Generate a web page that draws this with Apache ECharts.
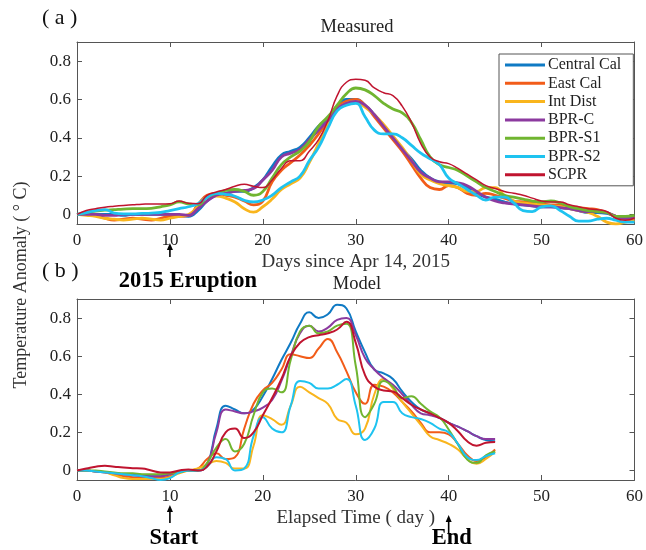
<!DOCTYPE html>
<html>
<head>
<meta charset="utf-8">
<script src="https://cdn.jsdelivr.net/npm/echarts@6/dist/echarts.min.js"></script>
<style>
  html, body { margin: 0; padding: 0; background: #fff; }
  #chart { width: 646px; height: 550px; }
</style>
</head>
<body>
<div id="chart"></div>
<script>
const seriesNames = ['Central Cal', 'East Cal', 'Int Dist', 'BPR-C', 'BPR-S1', 'BPR-S2', 'SCPR'];
const colors = ['#0f7ac4', '#f25c19', '#f9b51d', '#8c3a9f', '#70b530', '#1ec3f0', '#c0142f'];

// panel (a) measured, one value per day 0..60
const daysMeasured = Array.from({ length: 61 }, (_, i) => i);
const measCentral = [0, 0, 0, 0, 0, -0.005, 0, 0, 0, 0,
  0, -0.005, -0.01, 0.02, 0.07, 0.1, 0.11, 0.12, 0.12, 0.14,
  0.18, 0.25, 0.31, 0.33, 0.35, 0.4, 0.46, 0.5, 0.56, 0.6,
  0.6, 0.57, 0.52, 0.46, 0.4, 0.34, 0.29, 0.23, 0.19, 0.17,
  0.165, 0.16, 0.14, 0.11, 0.09, 0.08, 0.065, 0.055, 0.05, 0.045,
  0.04, 0.04, 0.035, 0.03, 0.02, 0.01, 0.01, 0.005, -0.01, -0.02, -0.02];
const measEast = [0, 0, -0.005, -0.02, -0.03, -0.025, -0.02, -0.025, -0.03, -0.02,
  -0.01, -0.01, -0.005, 0.05, 0.1, 0.11, 0.1, 0.09, 0.07, 0.05,
  0.07, 0.17, 0.23, 0.27, 0.31, 0.36, 0.42, 0.49, 0.56, 0.59,
  0.6, 0.57, 0.51, 0.45, 0.39, 0.33, 0.26, 0.19, 0.14, 0.13,
  0.15, 0.14, 0.11, 0.1, 0.11, 0.1, 0.085, 0.07, 0.065, 0.06,
  0.055, 0.05, 0.05, 0.04, 0.035, 0.03, 0.025, 0.01, -0.01, -0.02, -0.02];
const measIntDist = [0, -0.005, -0.01, -0.02, -0.025, -0.03, -0.025, -0.02, -0.025, -0.03,
  -0.02, -0.01, 0, 0.04, 0.09, 0.095, 0.085, 0.065, 0.03, 0.012,
  0.04, 0.08, 0.13, 0.16, 0.19, 0.27, 0.37, 0.47, 0.55, 0.58,
  0.59, 0.56, 0.52, 0.47, 0.41, 0.35, 0.28, 0.21, 0.18, 0.16,
  0.15, 0.14, 0.12, 0.12, 0.14, 0.14, 0.1, 0.07, 0.06, 0.055,
  0.05, 0.045, 0.04, 0.03, 0.02, 0.01, -0.01, -0.04, -0.05, -0.04, -0.03];
const measBprC = [0, 0, 0, -0.005, -0.005, 0, 0, 0, 0, 0,
  0, 0, -0.005, 0.03, 0.07, 0.1, 0.11, 0.12, 0.125, 0.135,
  0.18, 0.23, 0.3, 0.32, 0.34, 0.39, 0.44, 0.49, 0.55, 0.58,
  0.59, 0.57, 0.52, 0.46, 0.4, 0.34, 0.28, 0.22, 0.19, 0.17,
  0.17, 0.165, 0.15, 0.12, 0.09, 0.07, 0.06, 0.055, 0.05, 0.045,
  0.04, 0.04, 0.035, 0.03, 0.02, 0.015, 0.015, 0.01, -0.01, -0.02, -0.015];
const measBprS1 = [0, 0.01, 0.017, 0.022, 0.025, 0.028, 0.03, 0.03, 0.032, 0.04,
  0.05, 0.065, 0.055, 0.05, 0.09, 0.11, 0.125, 0.13, 0.12, 0.1,
  0.12, 0.19, 0.26, 0.3, 0.33, 0.38, 0.46, 0.51, 0.57, 0.63,
  0.66, 0.65, 0.62, 0.58, 0.55, 0.53, 0.48, 0.39, 0.3, 0.26,
  0.245, 0.23, 0.2, 0.17, 0.14, 0.12, 0.1, 0.09, 0.08, 0.07,
  0.065, 0.07, 0.06, 0.04, 0.03, 0.02, 0.015, 0.01, -0.01, -0.01, -0.005];
const measBprS2 = [0, 0.01, 0.02, 0.025, 0.007, 0.003, 0.003, 0.005, 0.007, 0.01,
  0.02, 0.03, 0.04, 0.056, 0.09, 0.11, 0.105, 0.095, 0.074, 0.065,
  0.075, 0.1, 0.14, 0.17, 0.2, 0.28, 0.35, 0.45, 0.54, 0.57,
  0.58, 0.51, 0.44, 0.42, 0.42, 0.4, 0.36, 0.32, 0.29, 0.26,
  0.19, 0.16, 0.13, 0.1, 0.075, 0.09, 0.09, 0.06, 0.02, 0.015,
  0.04, 0.045, 0.02, -0.01, -0.035, -0.035, -0.025, -0.02, -0.03, -0.04, -0.04];
const measScpr = [0, 0.02, 0.03, 0.038, 0.043, 0.047, 0.05, 0.053, 0.055, 0.055,
  0.056, 0.07, 0.058, 0.056, 0.1, 0.117, 0.13, 0.147, 0.157, 0.147,
  0.14, 0.18, 0.24, 0.28, 0.28, 0.33, 0.39, 0.49, 0.62, 0.69,
  0.705, 0.7, 0.66, 0.635, 0.62, 0.565, 0.48, 0.37, 0.3, 0.275,
  0.265, 0.24, 0.21, 0.18, 0.15, 0.135, 0.12, 0.11, 0.1, 0.085,
  0.07, 0.065, 0.065, 0.05, 0.04, 0.03, 0.025, 0.015, -0.02, -0.03, -0.02];

// panel (b) model, one value per day 0..45
const daysModel = Array.from({ length: 46 }, (_, i) => i);
const modCentral = [0, 0, -0.005, -0.01, -0.015, -0.02, -0.02, -0.025, -0.03, -0.03,
  -0.02, -0.01, 0, 0, 0.03, 0.22, 0.34, 0.32, 0.3, 0.32,
  0.39, 0.48, 0.58, 0.67, 0.77, 0.83, 0.8, 0.82, 0.87, 0.85,
  0.73, 0.62, 0.53, 0.51, 0.48, 0.415, 0.36, 0.32, 0.3, 0.276,
  0.25, 0.23, 0.206, 0.18, 0.16, 0.153];
const modEast = [0, 0, -0.005, -0.01, -0.02, -0.03, -0.035, -0.04, -0.04, -0.04,
  -0.03, -0.01, 0, 0.01, 0.06, 0.09, 0.06, 0.07, 0.22, 0.35,
  0.42, 0.46, 0.53, 0.61, 0.6, 0.59, 0.64, 0.69, 0.62, 0.52,
  0.41, 0.35, 0.45, 0.44, 0.41, 0.36, 0.31, 0.25, 0.2, 0.2,
  0.19, 0.14, 0.08, 0.05, 0.07, 0.11];
const modIntDist = [0, 0, -0.005, -0.01, -0.025, -0.04, -0.045, -0.045, -0.045, -0.045,
  -0.035, -0.015, 0, 0.01, 0.03, 0.05, 0.04, 0.01, 0.01, 0.13,
  0.29, 0.27, 0.24, 0.34, 0.44, 0.41, 0.38, 0.35, 0.27, 0.25,
  0.19, 0.22, 0.4, 0.48, 0.43, 0.36, 0.3, 0.24, 0.18, 0.16,
  0.14, 0.11, 0.06, 0.035, 0.06, 0.1];
const modBprC = [0, 0, -0.005, -0.01, -0.015, -0.02, -0.025, -0.03, -0.03, -0.03,
  -0.02, -0.01, 0, 0, 0.03, 0.2, 0.32, 0.31, 0.3, 0.31,
  0.33, 0.37, 0.47, 0.6, 0.72, 0.76, 0.73, 0.75, 0.79, 0.8,
  0.71, 0.59, 0.53, 0.485, 0.45, 0.4, 0.345, 0.3, 0.29, 0.276,
  0.25, 0.23, 0.206, 0.18, 0.165, 0.165];
const modBprS1 = [0, 0, 0, -0.005, -0.01, -0.015, -0.015, -0.02, -0.02, -0.02,
  -0.015, -0.01, 0, 0, 0.04, 0.12, 0.165, 0.1, 0.14, 0.29,
  0.41, 0.43, 0.41, 0.58, 0.73, 0.76, 0.72, 0.73, 0.76, 0.77,
  0.55, 0.28, 0.35, 0.47, 0.44, 0.38, 0.39, 0.35, 0.31, 0.28,
  0.215, 0.136, 0.057, 0.04, 0.08, 0.1];
const modBprS2 = [0, 0, -0.005, -0.01, -0.015, -0.02, -0.025, -0.03, -0.04, -0.05,
  -0.04, -0.01, 0, 0, 0.02, 0.07, 0.06, 0, 0.01, 0.18,
  0.28, 0.22, 0.2, 0.34, 0.47, 0.46, 0.43, 0.43, 0.45, 0.48,
  0.34, 0.16, 0.22, 0.36, 0.36, 0.3, 0.28, 0.27, 0.25, 0.22,
  0.2, 0.14, 0.07, 0.055, 0.075, 0.09];
const modScpr = [0, 0.01, 0.02, 0.025, 0.02, 0.015, 0.012, 0.01, 0, -0.01,
  -0.01, 0, 0.005, 0, 0.02, 0.1, 0.2, 0.22, 0.17, 0.2,
  0.29, 0.38, 0.48, 0.6, 0.67, 0.7, 0.71, 0.72, 0.74, 0.78,
  0.67, 0.5, 0.44, 0.42, 0.415, 0.38, 0.345, 0.32, 0.3, 0.276,
  0.25, 0.206, 0.153, 0.13, 0.145, 0.15];

const measured = [measCentral, measEast, measIntDist, measBprC, measBprS1, measBprS2, measScpr];
const model = [modCentral, modEast, modIntDist, modBprC, modBprS1, modBprS2, modScpr];

const yTicks = [0, 0.2, 0.4, 0.6, 0.8];
const eruptionDay = 10;
const startDay = 10;
const endDay = 40;

const serif = 'Liberation Serif';
const ink = '#222';
const boxColor = '#555';

const chart = echarts.init(document.getElementById('chart'));

function xAxisFor(gridIndex, bottom, name) {
  return {
    type: 'value', gridIndex, position: bottom ? 'bottom' : 'top',
    min: 0, max: 60, interval: 10,
    name: bottom ? name : '', nameLocation: 'middle', nameGap: 29,
    nameTextStyle: { fontFamily: serif, fontSize: 19, color: '#333' },
    axisLine: { show: true, onZero: false, lineStyle: { color: boxColor, width: 1 } },
    axisTick: { show: true, inside: true, length: 5, lineStyle: { color: boxColor } },
    axisLabel: { show: bottom, margin: 8, fontFamily: serif, fontSize: 17, color: ink },
    splitLine: { show: false }
  };
}

function yAxisFor(gridIndex, left) {
  return {
    type: 'value', gridIndex, position: left ? 'left' : 'right',
    min: -0.05, max: 0.9,
    axisLine: { show: true, onZero: false, lineStyle: { color: boxColor, width: 1 } },
    axisTick: { show: true, inside: true, length: 5, customValues: yTicks, lineStyle: { color: boxColor } },
    axisLabel: {
      show: left, margin: 6, fontFamily: serif, fontSize: 17, color: ink,
      customValues: yTicks,
      formatter: v => (v === 0 ? '0' : v.toFixed(1))
    },
    splitLine: { show: false }
  };
}

const series = [];
measured.forEach((vals, i) => {
  series.push({
    name: seriesNames[i], type: 'line', xAxisIndex: 0, yAxisIndex: 0,
    data: daysMeasured.map((d, j) => [d, vals[j]]),
    smooth: 0.5, showSymbol: false, symbol: 'none',
    lineStyle: { width: i === 6 ? 1.5 : 2.8, color: colors[i] },
    itemStyle: { color: colors[i] }, z: 2
  });
});
model.forEach((vals, i) => {
  series.push({
    name: seriesNames[i], type: 'line', xAxisIndex: 2, yAxisIndex: 2,
    data: daysModel.map((d, j) => [d, vals[j]]),
    smooth: 0.5, showSymbol: false, symbol: 'none',
    lineStyle: { width: 2, color: colors[i] },
    itemStyle: { color: colors[i] }, z: 2
  });
});

chart.setOption({
  animation: false,
  backgroundColor: '#fff',
  color: colors,
  title: [
    { text: 'Measured', left: 357, top: 18, textAlign: 'center', padding: 0,
      textStyle: { fontFamily: serif, fontSize: 18.5, fontWeight: 'normal', color: ink } },
    { text: 'Model', left: 357, top: 275, textAlign: 'center', padding: 0,
      textStyle: { fontFamily: serif, fontSize: 18.5, fontWeight: 'normal', color: ink } }
  ],
  grid: [
    { left: 77, top: 42, width: 560, height: 182 },
    { left: 77, top: 299, width: 560, height: 181 }
  ],
  xAxis: [
    xAxisFor(0, true, 'Days since Apr 14, 2015'),
    xAxisFor(0, false),
    xAxisFor(1, true, 'Elapsed Time ( day )'),
    xAxisFor(1, false)
  ],
  yAxis: [yAxisFor(0, true), yAxisFor(0, false), yAxisFor(1, true), yAxisFor(1, false)],
  legend: {
    data: seriesNames, orient: 'vertical', left: 499, top: 54,
    padding: [3, 12, 3, 6], itemGap: 2.3, itemWidth: 40, itemHeight: 3,
    icon: 'rect', borderColor: boxColor, borderWidth: 1, backgroundColor: '#fff',
    textStyle: { fontFamily: serif, fontSize: 16, lineHeight: 15, color: ink, padding: [0, 0, 0, -2] }
  },
  series
});

function arrow(x, yTail, yTip) {
  return {
    type: 'group',
    children: [
      { type: 'line', shape: { x1: x, y1: yTail, x2: x, y2: yTip + 5 }, style: { stroke: '#000', lineWidth: 1.6 } },
      { type: 'polygon', shape: { points: [[x - 3, yTip + 7], [x + 3, yTip + 7], [x, yTip]] }, style: { fill: '#000' } }
    ]
  };
}

const xErupt = chart.convertToPixel({ xAxisIndex: 0 }, eruptionDay);
const xStart = chart.convertToPixel({ xAxisIndex: 2 }, startDay);
const xEnd = chart.convertToPixel({ xAxisIndex: 2 }, endDay);

chart.setOption({
  graphic: [
    { type: 'text', left: 42, top: 7, style: { text: '( a )', font: '22px "Liberation Serif"', fill: '#111' } },
    { type: 'text', left: 42, top: 260, style: { text: '( b )', font: '22px "Liberation Serif"', fill: '#111' } },
    {
      type: 'text', x: 21, y: 285, rotation: Math.PI / 2,
      style: { text: 'Temperature Anomaly ( \u00B0 C)', font: '18px "Liberation Serif"', fill: '#333',
        align: 'center', verticalAlign: 'middle' }
    },
    arrow(xErupt, 257, 243),
    { type: 'text', x: xErupt + 18, y: 281,
      style: { text: '2015 Eruption', font: 'bold 22.5px "Liberation Serif"', fill: '#000', align: 'center', verticalAlign: 'middle' } },
    arrow(xStart, 523, 505),
    { type: 'text', x: xStart + 4, y: 538,
      style: { text: 'Start', font: 'bold 22.5px "Liberation Serif"', fill: '#000', align: 'center', verticalAlign: 'middle' } },
    arrow(xEnd, 534, 515),
    { type: 'text', x: xEnd + 3, y: 538,
      style: { text: 'End', font: 'bold 22.5px "Liberation Serif"', fill: '#000', align: 'center', verticalAlign: 'middle' } }
  ]
});
</script>
</body>
</html>
